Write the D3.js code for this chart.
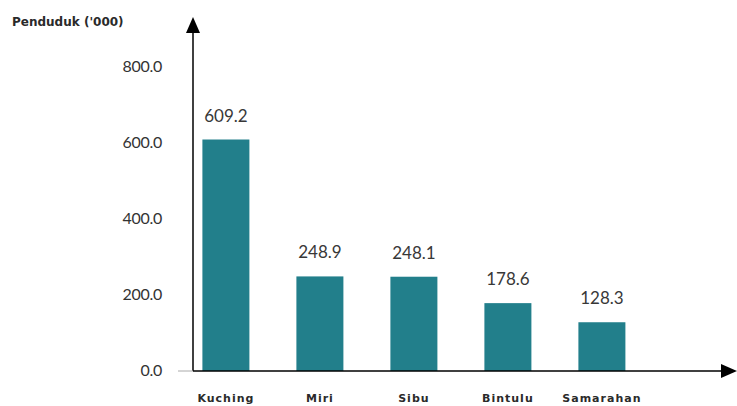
<!DOCTYPE html>
<html><head><meta charset="utf-8">
<script src="https://cdn.jsdelivr.net/npm/d3@7"></script>
<style>body{margin:0;background:#fff;}svg{display:block;}</style>
</head><body>
<svg id="c" width="737" height="406"></svg>
<script>
const categories = ["Kuching", "Miri", "Sibu", "Bintulu", "Samarahan"];
const values = [609.2, 248.9, 248.1, 178.6, 128.3];
const yTicks = [0, 200, 400, 600, 800];
const yTitle = "Penduduk ('000)";

const svg = d3.select("#c");
const x0 = 193, yBase = 371;
const y = d3.scaleLinear().domain([0, 800]).range([yBase, 67]);
const x = d3.scaleBand().domain(categories)
  .range([x0, x0 + 94 * (5 - 0.5 + 0.2)]).paddingInner(0.5).paddingOuter(0.1);

// bars
svg.selectAll("rect.bar").data(values).join("rect")
  .attr("x", (d, i) => x(categories[i]))
  .attr("y", d => y(d))
  .attr("width", x.bandwidth())
  .attr("height", d => yBase - y(d))
  .attr("fill", "#227f8b");

// value labels
svg.selectAll("text.val").data(values).join("text")
  .attr("x", (d, i) => x(categories[i]) + x.bandwidth() / 2)
  .attr("y", d => y(d) - 18)
  .attr("text-anchor", "middle")
  .attr("font-family", "Lato")
  .attr("font-size", 17)
  .attr("fill", "#383838")
  .text(d => d.toFixed(1));

// y tick labels
svg.selectAll("text.yt").data(yTicks).join("text")
  .attr("x", 162)
  .attr("y", d => y(d) + 5)
  .attr("text-anchor", "end")
  .attr("font-family", "Lato")
  .attr("font-size", 16)
  .attr("letter-spacing", -0.3)
  .attr("fill", "#333")
  .text(d => d.toFixed(1));

// x labels
svg.selectAll("text.xl").data(categories).join("text")
  .attr("x", d => x(d) + x.bandwidth() / 2)
  .attr("y", 402)
  .attr("text-anchor", "middle")
  .attr("font-family", "DejaVu Sans")
  .attr("font-weight", "bold")
  .attr("font-size", 11)
  .attr("letter-spacing", 1)
  .attr("fill", "#2a2a2a")
  .text(d => d);

// axes
svg.append("line").attr("x1", x0).attr("x2", x0).attr("y1", 30).attr("y2", yBase)
  .attr("stroke", "#000").attr("stroke-width", 1.5);
svg.append("line").attr("x1", x0).attr("x2", 726).attr("y1", yBase).attr("y2", yBase)
  .attr("stroke", "#000").attr("stroke-width", 1.5);
svg.append("path").attr("d", `M${x0},17 L${x0-7},33 L${x0+7},33 Z`).attr("fill", "#000");
svg.append("path").attr("d", `M737,${yBase} L721,${yBase-7} L721,${yBase+7} Z`).attr("fill", "#000");
svg.append("line").attr("x1", 178).attr("x2", x0).attr("y1", yBase).attr("y2", yBase)
  .attr("stroke", "#aaa").attr("stroke-width", 1);

// title (single string, as first rendered correctly)
svg.append("text").attr("x", 12).attr("y", 26)
  .attr("font-family", "DejaVu Sans").attr("font-weight", "bold")
  .attr("font-size", 12)
  .attr("fill", "#2a2a2a").text(yTitle);
</script>
</body></html>
